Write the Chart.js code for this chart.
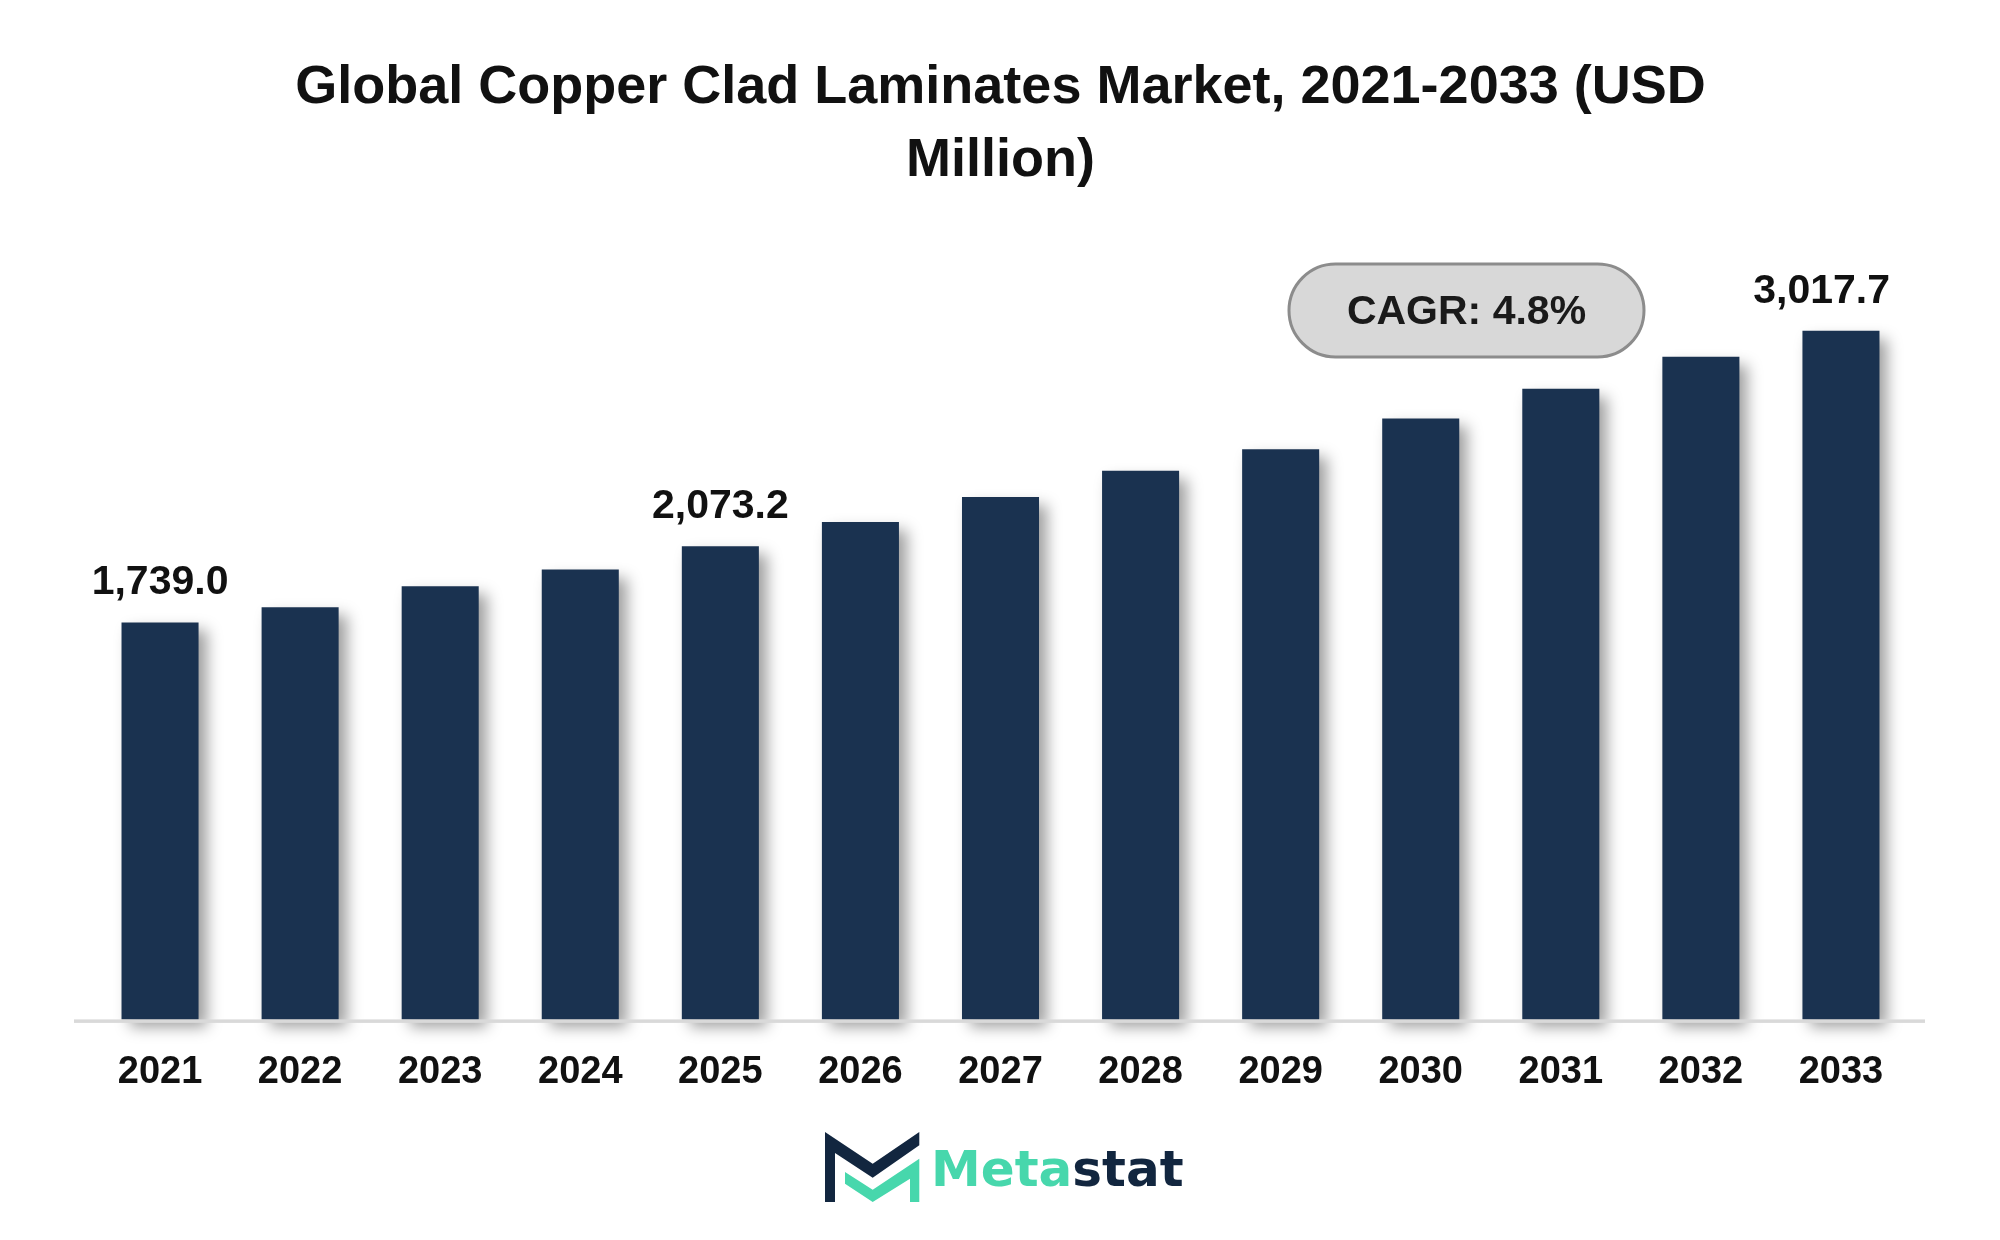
<!DOCTYPE html>
<html>
<head>
<meta charset="utf-8">
<title>Global Copper Clad Laminates Market</title>
<script src="https://cdn.jsdelivr.net/npm/chart.js@4.4.1/dist/chart.umd.min.js"></script>
<style>
  html, body { margin: 0; padding: 0; background: #ffffff; }
  #wrap { width: 2000px; height: 1240px; position: relative; }
</style>
</head>
<body>
<div id="wrap"><canvas id="ccl-chart"></canvas></div>
<script>
// chart data
const years = ['2021', '2022', '2023', '2024', '2025', '2026', '2027', '2028', '2029', '2030', '2031', '2032', '2033'];
const marketSize = [1739.0, 1806, 1898, 1971, 2073.2, 2179, 2289, 2404, 2498, 2633, 2763, 2903, 3017.7];
const labelledYears = ['2021', '2025', '2033'];
const titleLines = ['Global Copper Clad Laminates Market, 2021-2033 (USD', 'Million)'];
const cagrText = 'CAGR: 4.8%';
const brandParts = ['Meta', 'stat'];

const FONT = '"Liberation Sans", Arial, sans-serif';
const BAR_COLOR = '#1a3250';

// drop shadow behind the bars
const barShadow = {
  id: 'barShadow',
  beforeDatasetsDraw(chart) {
    const ctx = chart.ctx;
    ctx.save();
    ctx.shadowColor = 'rgba(0, 0, 0, 0.38)';
    ctx.shadowBlur = 14;
    ctx.shadowOffsetX = 8;
    ctx.shadowOffsetY = 8;
  },
  afterDatasetsDraw(chart) {
    chart.ctx.restore();
  }
};

// baseline, value labels, CAGR pill and logo
const extras = {
  id: 'extras',
  afterDatasetsDraw(chart) {
    const ctx = chart.ctx;
    const area = chart.chartArea;

    // axis line
    ctx.save();
    ctx.fillStyle = '#d9d9d9';
    ctx.fillRect(area.left - 16, area.bottom, area.right - area.left + 30, 3.5);

    // value labels (kept inside the plot on the right)
    const meta = chart.getDatasetMeta(0);
    ctx.font = 'bold 41px ' + FONT;
    ctx.fillStyle = '#111111';
    ctx.textAlign = 'center';
    ctx.textBaseline = 'alphabetic';
    labelledYears.forEach(y => {
      const i = years.indexOf(y);
      const bar = meta.data[i];
      const txt = marketSize[i].toLocaleString('en-US', { minimumFractionDigits: 1, maximumFractionDigits: 1 });
      const half = ctx.measureText(txt).width / 2;
      const x = Math.min(bar.x, area.right - 21 - half);
      ctx.fillText(txt, x, bar.y - 28);
    });

    // CAGR pill
    const bx = 1289, by = 264, bw = 355, bh = 93, r = bh / 2;
    ctx.beginPath();
    ctx.moveTo(bx + r, by);
    ctx.lineTo(bx + bw - r, by);
    ctx.arc(bx + bw - r, by + r, r, -Math.PI / 2, Math.PI / 2);
    ctx.lineTo(bx + r, by + bh);
    ctx.arc(bx + r, by + r, r, Math.PI / 2, Math.PI * 1.5);
    ctx.closePath();
    ctx.fillStyle = '#d8d8d8';
    ctx.fill();
    ctx.lineWidth = 3;
    ctx.strokeStyle = '#8c8c8c';
    ctx.stroke();
    ctx.fillStyle = '#1a1a1a';
    ctx.textBaseline = 'middle';
    ctx.fillText(cagrText, bx + bw / 2, by + bh / 2 + 2);

    // logo icon
    const ox = 825, oy = 1132;
    const poly = (pts, color) => {
      ctx.beginPath();
      pts.forEach((p, k) => k ? ctx.lineTo(ox + p[0], oy + p[1]) : ctx.moveTo(ox + p[0], oy + p[1]));
      ctx.closePath();
      ctx.fillStyle = color;
      ctx.fill();
    };
    poly([[0, 0], [47.7, 31.7], [94.3, 0], [94.3, 13.3], [47.7, 45.7], [10, 21], [10, 70], [0, 70]], '#12263f');
    poly([[20, 40], [47.7, 57.7], [94.3, 26.7], [94.3, 70], [85, 70], [85, 46.7], [47.7, 70], [20, 51.7]], '#47d7ac');

    // logo text
    ctx.font = 'bold 50px "DejaVu Sans", sans-serif';
    ctx.textAlign = 'left';
    ctx.textBaseline = 'alphabetic';
    ctx.fillStyle = '#47d7ac';
    ctx.fillText(brandParts[0], 931, 1186);
    const w = ctx.measureText(brandParts[0]).width;
    ctx.fillStyle = '#12263f';
    ctx.fillText(brandParts[1], 931 + w, 1186);
    ctx.restore();
  }
};

const ctx = document.getElementById('ccl-chart').getContext('2d');
new Chart(ctx, {
  type: 'bar',
  data: {
    labels: years,
    datasets: [{
      label: 'Market Size (USD Million)',
      data: marketSize,
      backgroundColor: BAR_COLOR,
      borderWidth: 0,
      categoryPercentage: 1.0,
      barPercentage: 0.55,
      clip: false
    }]
  },
  options: {
    responsive: true,
    maintainAspectRatio: false,
    animation: false,
    layout: { padding: { left: 90, right: 89, top: 0, bottom: 115 } },
    plugins: {
      legend: { display: false },
      tooltip: { enabled: false },
      title: {
        display: true,
        text: titleLines,
        color: '#111111',
        font: { family: FONT, size: 54, weight: 'bold', lineHeight: 1.36 },
        padding: { top: 51, bottom: 45.5 }
      }
    },
    scales: {
      x: {
        grid: { display: false, drawTicks: false },
        border: { display: false },
        ticks: {
          color: '#111111',
          font: { family: FONT, size: 38, weight: 'bold' },
          padding: 30
        }
      },
      y: {
        display: false,
        min: 0,
        max: 3400
      }
    }
  },
  plugins: [barShadow, extras]
});
</script>
</body>
</html>
